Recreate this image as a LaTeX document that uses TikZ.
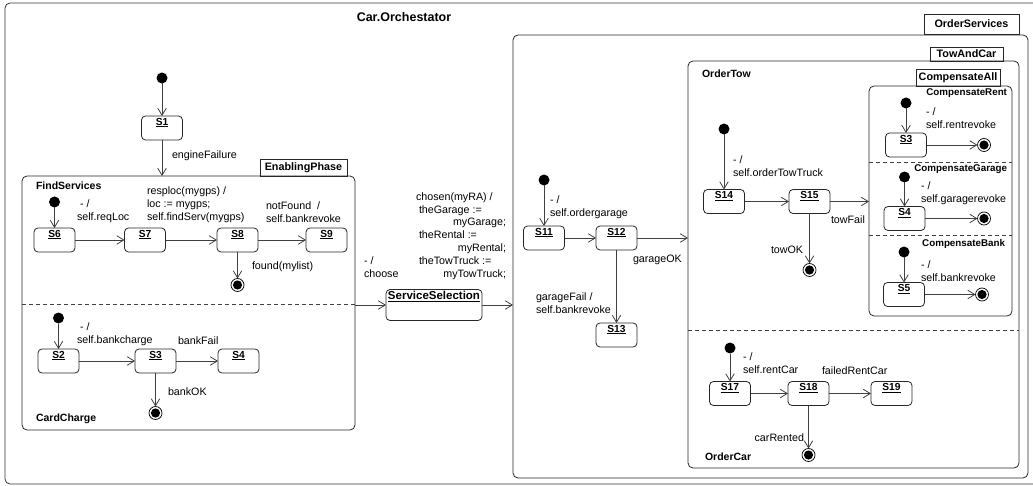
\documentclass[tikz,border=0pt]{standalone}
\usepackage{fontspec}
\setmainfont{Liberation Sans}
\usetikzlibrary{arrows.meta,fit}

% a state box with its underlined name at the top
\newcommand\stnode[3]{\node[stbox, label={[slbl]north:\underline{#3}}] (#1) at (#2) {};}

\begin{document}
\begin{tikzpicture}[x=1pt,y=-1pt,
  line width=0.8pt,
  every node/.style={inner sep=0pt, outer sep=0pt},
  outerframe/.style={draw=black!80, rounded corners=5pt},
  region/.style={draw=black!85, rounded corners=5pt, inner sep=0pt, outer sep=0pt},
  tabbox/.style={draw=black!85, font=\fontsize{10.8}{12}\selectfont\bfseries, inner sep=0pt},
  stbox/.style={draw=black!85, rounded corners=4pt, minimum width=41pt, minimum height=24pt},
  slbl/.style={anchor=north, font=\fontsize{10.2}{12}\selectfont\bfseries, inner sep=0pt, yshift=-2pt},
  initdot/.style={circle, fill=black, minimum size=11pt},
  finaldot/.style={circle, draw=black, line width=0.7pt, minimum size=13pt,
    path picture={\fill[black] (path picture bounding box.center) circle (4.6pt);}},
  tr/.style={draw=black!75, -{Straight Barb[length=7pt,width=8.5pt]}},
  txt/.style={font=\fontsize{10.7}{12.8}\selectfont, align=left},
  rname/.style={font=\fontsize{10.5}{12}\selectfont\bfseries},
  cname/.style={font=\fontsize{9.8}{12}\selectfont\bfseries},
  divider/.style={draw=black!75, line width=0.7pt, dash pattern=on 4pt off 3pt},
]
\useasboundingbox (0,0) rectangle (1033,486);
\clip (0,0) rectangle (1033,486);

% outer machine
\draw[outerframe] (5,3) rectangle (1045,484);
\node[font=\fontsize{12.5}{14}\selectfont\bfseries] (title) at (404,17) {Car.Orchestator};

% ---------- start ----------
\node[initdot] (i0) at (162,78) {};
\stnode{s1}{162,128}{S1}
\draw[tr] (i0) -- (s1);

% ---------- EnablingPhase ----------
\node[region, fit={(22,176) (355,430)}] (enabling) {};
\node[tabbox, minimum width=87pt, minimum height=17pt] (enablingtab) at (303.5,167.5) {EnablingPhase};
\draw[tr] (s1) -- (s1 |- enabling.north);
\node[txt, anchor=west] (lengine) at (172,156) {engineFailure};

% FindServices
\node[rname, anchor=west] (nfind) at (36,186) {FindServices};
\node[initdot] (i1) at (54.5,202) {};
\stnode{s6}{54.5,240}{S6}
\stnode{s7}{145,240}{S7}
\stnode{s8}{237.5,240}{S8}
\stnode{s9}{326.5,240}{S9}
\node[finaldot] (f1) at (237.5,285) {};
\draw[tr] (i1) -- (s6);
\draw[tr] (s6) -- (s7);
\draw[tr] (s7) -- (s8);
\draw[tr] (s8) -- (s9);
\draw[tr] (s8) -- (f1);
\node[txt, anchor=west] (lreqloc) at (77,211.5) {\hspace*{3pt}- /\\self.reqLoc};
\node[txt, anchor=west] (lresploc) at (147,205) {resploc(mygps) /\\loc := mygps;\\self.findServ(mygps)};
\node[txt, anchor=west] (lnotfound) at (266,212) {notFound~ /\\self.bankrevoke};
\node[txt, anchor=west] (lfound) at (252,267) {found(mylist)};

\draw[divider] (22,304) -- (355,304);

% CardCharge
\node[initdot] (i2) at (58.5,318) {};
\stnode{s2}{58.5,361}{S2}
\stnode{s3}{155.5,361}{S3}
\stnode{s4}{238.5,361}{S4}
\node[finaldot] (f2) at (155.5,413) {};
\draw[tr] (i2) -- (s2);
\draw[tr] (s2) -- (s3);
\draw[tr] (s3) -- (s4);
\draw[tr] (s3) -- (f2);
\node[txt, anchor=west] (lbankcharge) at (77,334.5) {\hspace*{3pt}- /\\self.bankcharge};
\node[txt, anchor=west] (lbankfail) at (178,341) {bankFail};
\node[txt, anchor=west] (lbankok) at (168,392) {bankOK};
\node[rname, anchor=west] (ncard) at (36,419) {CardCharge};

% ---------- ServiceSelection ----------
\node[stbox, minimum width=96pt, minimum height=31pt,
  label={[slbl, font=\fontsize{11.5}{13}\selectfont\bfseries]north:\underline{ServiceSelection}}] (svc) at (434,305) {};
\draw[tr] (enabling.east |- svc.west) -- (svc.west);
\node[txt, anchor=west] (lchoose) at (364,267.5) {- /\\choose};
\node[txt, anchor=west] (lchosen) at (416,236) {chosen(myRA) /\\
  \hspace*{3pt}theGarage :=\\
  \makebox[90pt][r]{myGarage;}\\
  \hspace*{3pt}theRental :=\\
  \makebox[90pt][r]{myRental;}\\
  \hspace*{3pt}theTowTruck :=\\
  \makebox[90pt][r]{myTowTruck;}};

% ---------- OrderServices ----------
\node[region, fit={(513,35) (1028,478)}] (services) {};
\node[tabbox, minimum width=95pt, minimum height=20pt] (servicestab) at (971.5,24) {OrderServices};
\draw[tr] (svc.east) -- (svc.east -| services.west);

\node[initdot] (i3) at (544,180) {};
\stnode{s11}{544,238}{S11}
\stnode{s12}{616.5,238}{S12}
\stnode{s13}{616.5,335}{S13}
\draw[tr] (i3) -- (s11);
\draw[tr] (s11) -- (s12);
\draw[tr] (s12) -- (s13);
\node[txt, anchor=west] (lordergarage) at (550,207) {- /\\self.ordergarage};
\node[txt, anchor=west] (lgarageok) at (633,260) {garageOK};
\node[txt, anchor=west] (lgaragefail) at (536,303) {garageFail /\\self.bankrevoke};

% ---------- TowAndCar ----------
\node[region, fit={(688,61) (1019,468)}] (towcar) {};
\node[tabbox, minimum width=73pt, minimum height=14pt] (towcartab) at (966.5,54) {TowAndCar};
\draw[tr] (s12) -- (s12 -| towcar.west);

% OrderTow
\node[rname, anchor=west] (nordertow) at (702,74) {OrderTow};
\node[initdot] (i4) at (724,129) {};
\stnode{s14}{724,201.5}{S14}
\stnode{s15}{809.5,201.5}{S15}
\node[finaldot] (f3) at (809.5,270) {};
\draw[tr] (i4) -- (s14);
\draw[tr] (s14) -- (s15);
\draw[tr] (s15) -- (f3);
\node[txt, anchor=west] (lordertow) at (733,166.5) {- /\\self.orderTowTruck};
\node[txt, anchor=west] (ltowfail) at (831,220) {towFail};
\node[txt, anchor=west] (ltowok) at (771,250) {towOK};

% CompensateAll
\node[region, fit={(869,86) (1012,316)}] (comp) {};
\node[tabbox, minimum width=84pt, minimum height=17pt] (comptab) at (958,77.5) {CompensateAll};
\draw[tr] (s15) -- (s15 -| comp.west);

\node[cname, anchor=east] (nrent) at (1007,93) {CompensateRent};
\node[initdot] (i5) at (906,103) {};
\stnode{s3r}{906,145}{S3}
\node[finaldot] (f4) at (984,145) {};
\draw[tr] (i5) -- (s3r);
\draw[tr] (s3r) -- (f4);
\node[txt, anchor=west] (lrent) at (926,118) {- /\\self.rentrevoke};

\draw[divider] (869,162) -- (1012,162);

\node[cname, anchor=east] (ngarage) at (1007,169) {CompensateGarage};
\node[initdot] (i6) at (904.5,177) {};
\stnode{s4g}{904.5,218.5}{S4}
\node[finaldot] (f5) at (984,218.5) {};
\draw[tr] (i6) -- (s4g);
\draw[tr] (s4g) -- (f5);
\node[txt, anchor=west] (lgarage) at (921,193) {- /\\self.garagerevoke};

\draw[divider] (869,235) -- (1012,235);

\node[cname, anchor=east] (nbank) at (1005,244) {CompensateBank};
\node[initdot] (i7) at (904,252) {};
\stnode{s5b}{904,294.5}{S5}
\node[finaldot] (f6) at (982,294.5) {};
\draw[tr] (i7) -- (s5b);
\draw[tr] (s5b) -- (f6);
\node[txt, anchor=west] (lbank) at (921,271.5) {- /\\self.bankrevoke};

\draw[divider] (688,330) -- (1019,330);

% OrderCar
\node[initdot] (i8) at (730,348) {};
\stnode{s17}{730,393.5}{S17}
\stnode{s18}{808.5,393.5}{S18}
\stnode{s19}{891.5,393.5}{S19}
\node[finaldot] (f7) at (808.5,455) {};
\draw[tr] (i8) -- (s17);
\draw[tr] (s17) -- (s18);
\draw[tr] (s18) -- (s19);
\draw[tr] (s18) -- (f7);
\node[txt, anchor=west] (lrentcar) at (743,363.5) {- /\\self.rentCar};
\node[txt, anchor=west] (lfailedrent) at (822,371) {failedRentCar};
\node[txt, anchor=east] (lcarrented) at (804,438) {carRented};
\node[rname, anchor=west] (nordercar) at (705,457) {OrderCar};
\end{tikzpicture}
\end{document}
